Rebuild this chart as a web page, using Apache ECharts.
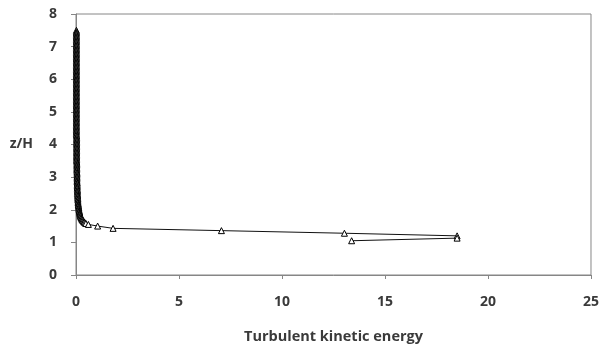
<!DOCTYPE html>
<html>
<head>
<meta charset="utf-8">
<script src="https://cdn.jsdelivr.net/npm/echarts@6/dist/echarts.min.js"></script>
<style>
html,body{margin:0;padding:0;background:#fff;}
#chart{width:602px;height:349px;}
</style>
</head>
<body>
<div id="chart"></div>
<script>
// Height z/H (from top of profile to bottom)
var zH = [7.50, 7.46, 7.42, 7.38, 7.34, 7.30, 7.26, 7.22, 7.18, 7.14, 7.10, 7.06, 7.02, 6.98, 6.94, 6.90,
  6.86, 6.82, 6.78, 6.74, 6.70, 6.66, 6.62, 6.58, 6.54, 6.50, 6.46, 6.42, 6.38, 6.34, 6.30, 6.26,
  6.22, 6.18, 6.14, 6.10, 6.06, 6.02, 5.98, 5.94, 5.90, 5.86, 5.82, 5.78, 5.74, 5.70, 5.66, 5.62,
  5.58, 5.54, 5.50, 5.46, 5.42, 5.38, 5.34, 5.30, 5.26, 5.22, 5.18, 5.14, 5.10, 5.06, 5.02, 4.98,
  4.94, 4.90, 4.86, 4.82, 4.78, 4.74, 4.70, 4.66, 4.62, 4.58, 4.54, 4.50, 4.46, 4.42, 4.38, 4.34,
  4.30, 4.26, 4.22, 4.18, 4.14, 4.10, 4.06, 4.02, 3.98, 3.94, 3.90, 3.86, 3.82, 3.78, 3.74, 3.70,
  3.66, 3.62, 3.58, 3.54, 3.50, 3.46, 3.42, 3.38, 3.34, 3.30, 3.26, 3.22, 3.18, 3.14, 3.10, 3.06,
  3.02, 2.98, 2.94, 2.90, 2.86, 2.82, 2.78, 2.74, 2.70, 2.66, 2.62, 2.58, 2.54, 2.50, 2.46, 2.42,
  2.38, 2.34, 2.30, 2.26, 2.22, 2.18, 2.15, 2.12, 2.08, 2.05, 2.02, 1.99, 1.96, 1.93, 1.90, 1.87,
  1.85, 1.82, 1.80, 1.77, 1.75, 1.72, 1.70, 1.68, 1.66, 1.64, 1.62, 1.60, 1.58, 1.55,
  1.50, 1.43, 1.36, 1.28, 1.20, 1.13, 1.05];
// Turbulent kinetic energy at each height
var tke = [0.02, 0.02, 0.02, 0.02, 0.02, 0.02, 0.02, 0.02, 0.02, 0.02, 0.02, 0.02, 0.02, 0.02, 0.02, 0.02,
  0.02, 0.02, 0.02, 0.02, 0.02, 0.02, 0.02, 0.02, 0.02, 0.02, 0.02, 0.02, 0.02, 0.02, 0.02, 0.02,
  0.02, 0.02, 0.02, 0.02, 0.02, 0.02, 0.02, 0.02, 0.02, 0.02, 0.02, 0.02, 0.02, 0.02, 0.02, 0.02,
  0.02, 0.02, 0.02, 0.02, 0.02, 0.02, 0.02, 0.02, 0.02, 0.02, 0.02, 0.02, 0.02, 0.02, 0.02, 0.02,
  0.02, 0.02, 0.02, 0.02, 0.02, 0.02, 0.02, 0.02, 0.02, 0.02, 0.02, 0.02, 0.02, 0.02, 0.02, 0.02,
  0.02, 0.03, 0.03, 0.03, 0.03, 0.03, 0.03, 0.03, 0.03, 0.03, 0.03, 0.03, 0.03, 0.03, 0.03, 0.03,
  0.03, 0.03, 0.03, 0.03, 0.03, 0.04, 0.04, 0.04, 0.04, 0.04, 0.04, 0.04, 0.04, 0.05, 0.05, 0.05,
  0.05, 0.05, 0.05, 0.05, 0.05, 0.06, 0.06, 0.06, 0.06, 0.06, 0.07, 0.07, 0.07, 0.07, 0.08, 0.08,
  0.08, 0.09, 0.09, 0.10, 0.10, 0.11, 0.11, 0.12, 0.13, 0.14, 0.14, 0.15, 0.16, 0.17, 0.18, 0.19,
  0.20, 0.21, 0.22, 0.24, 0.26, 0.28, 0.30, 0.32, 0.35, 0.38, 0.40, 0.44, 0.48, 0.60,
  1.05, 1.80, 7.06, 13.03, 18.50, 18.50, 13.38];
var xTicks = [0, 5, 10, 15, 20, 25];
var yTicks = [0, 1, 2, 3, 4, 5, 6, 7, 8];

var points = zH.map(function (z, i) { return [tke[i], z]; });

var chart = echarts.init(document.getElementById('chart'));
var txt = { fontFamily: 'Open Sans', fontSize: 14, fontWeight: 'bold', color: '#3a3a3a' };
chart.setOption({
  animation: false,
  backgroundColor: '#fff',
  grid: { left: 76, right: 9, top: 14, bottom: 74, show: true, borderColor: '#868686', borderWidth: 1 },
  xAxis: {
    type: 'value', min: xTicks[0], max: xTicks[xTicks.length - 1], interval: 5,
    name: 'Turbulent kinetic energy', nameLocation: 'middle', nameGap: 54,
    nameTextStyle: { fontFamily: 'Open Sans', fontSize: 14.5, fontWeight: 'bold', color: '#3a3a3a' },
    axisLine: { lineStyle: { color: '#868686' } },
    axisTick: { show: true, length: 4, lineStyle: { color: '#868686' } },
    axisLabel: Object.assign({ margin: 20 }, txt),
    splitLine: { show: false }
  },
  yAxis: {
    type: 'value', min: yTicks[0], max: yTicks[yTicks.length - 1], interval: 1,
    name: 'z/H', nameLocation: 'middle', nameGap: 43, nameRotate: 0,
    nameTextStyle: { fontFamily: 'Open Sans', fontSize: 14, fontWeight: 'bold', color: '#3a3a3a' },
    axisLine: { show: true, lineStyle: { color: '#868686' } },
    axisTick: { show: true, length: 5, lineStyle: { color: '#868686' } },
    axisLabel: Object.assign({ margin: 19 }, txt),
    splitLine: { show: false }
  },
  series: [{
    type: 'line',
    data: points,
    symbol: 'triangle',
    symbolSize: 6,
    showAllSymbol: true,
    lineStyle: { color: '#111', width: 1 },
    itemStyle: { color: '#fff', borderColor: '#000', borderWidth: 1 }
  }]
});
</script>
</body>
</html>
